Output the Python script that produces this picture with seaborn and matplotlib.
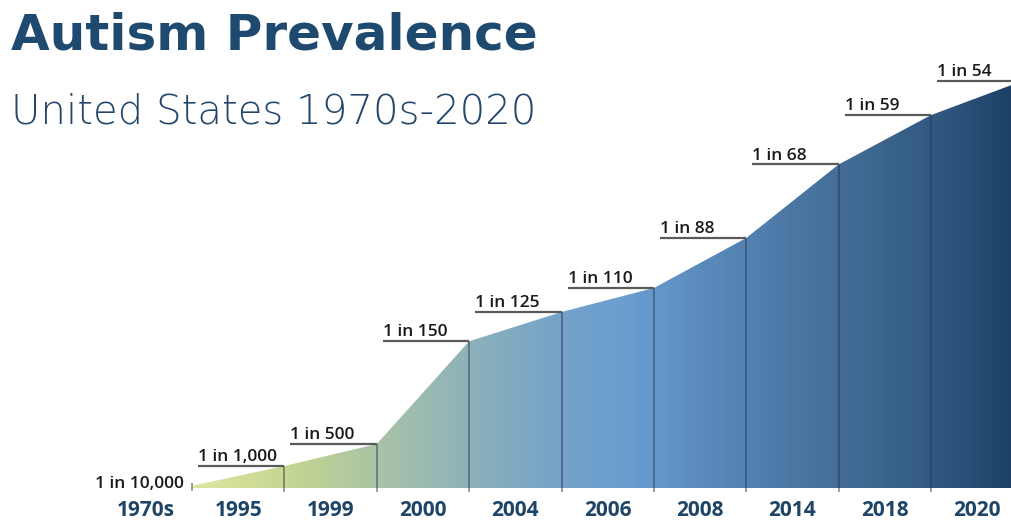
import numpy as np
import matplotlib
matplotlib.use("Agg")
import matplotlib.pyplot as plt
import seaborn as sns
from matplotlib.colors import LinearSegmentedColormap
from matplotlib.patches import Polygon

# ---- data ----
years = ["1970s", "1995", "1999", "2000", "2004", "2006", "2008", "2014", "2018", "2020"]
one_in = [10000, 1000, 500, 150, 125, 110, 88, 68, 59, 54]
labels = ["1 in 10,000", "1 in 1,000", "1 in 500", "1 in 150", "1 in 125",
          "1 in 110", "1 in 88", "1 in 68", "1 in 59", "1 in 54"]
prevalence = [1.0 / n for n in one_in]

sns.set_theme(style="white")
plt.rcParams['font.family'] = ['DejaVu Sans']

W, H = 1011, 523
fig = plt.figure(figsize=(W / 100, H / 100), dpi=100)
ax = fig.add_axes([0, 0, 1, 1])
ax.set_axis_off()

# pixel mapping: point i at px 192 + 92.375*i, baseline at py 488, 22000 px per unit
dx = 92.375
S = 22000.0
ax.set_xlim(-192 / dx, (W - 192) / dx)
ax.set_ylim(-(H - 488) / S, 488 / S)

xs = np.arange(len(years))
sns.lineplot(x=xs, y=prevalence, ax=ax, linewidth=0, color="#1c4163")

# gradient fill clipped to area
stops_px = [192, 285, 377, 469, 562, 630, 700, 790, 880, 960, 1023]
stops_col = ["#dde6a0", "#c6d790", "#a9c3a6", "#8db2ba", "#74a2c9", "#6a9ed0",
             "#5b8bbd", "#4c78a5", "#3d668f", "#2a527a", "#1b3f61"]
fr = [(p - 192) / (1023 - 192) for p in stops_px]
cmap = LinearSegmentedColormap.from_list("g", list(zip(fr, stops_col)))
grad = np.linspace(0, 1, 600).reshape(1, -1)
im = ax.imshow(grad, cmap=cmap, aspect="auto",
               extent=[0, len(years) - 1, 0, max(prevalence) * 1.02],
               origin="lower", zorder=1, interpolation="bilinear")
poly = Polygon(np.column_stack([np.r_[xs, xs[-1], xs[0]],
                                np.r_[prevalence, 0, 0]]),
               closed=True, transform=ax.transData, facecolor="none", edgecolor="none")
ax.add_patch(poly)
im.set_clip_path(poly)

# vertical separators
for i in range(1, len(years)):
    ax.vlines(xs[i], -4 / S, prevalence[i], color="#23364a", alpha=0.55, lw=1.2, zorder=2)
ax.vlines(xs[0], -3 / S, 5 / S, color="#8a8a8a", lw=1.2, zorder=2)

# value labels with underline
for i in range(1, len(years)):
    x0 = xs[i - 1] + 6 / dx
    ax.hlines(prevalence[i], x0, xs[i], color="#5a5a5a", lw=1.6, zorder=3)
    ax.annotate(labels[i], xy=(x0, prevalence[i]), xytext=(0, 3.5),
                textcoords="offset points", ha="left", va="baseline",
                fontsize=12.5, fontweight="semibold", family=["Open Sans", "DejaVu Sans"],
                color="#1a1a1a", zorder=4)
ax.annotate(labels[0], xy=(xs[0], 0), xytext=(-6, 0), textcoords="offset points",
            ha="right", va="baseline", fontsize=12.5, fontweight="semibold",
            family=["Open Sans", "DejaVu Sans"], color="#1a1a1a")

# category labels
for i, yr in enumerate(years):
    ax.text(xs[i] - 0.5, -23 / S, yr, ha="center", va="center", fontsize=15,
            fontweight="bold", family=["Open Sans", "DejaVu Sans"], color="#1e4466")

# titles
fig.text(11 / W, 1 - 50 / H, "Autism Prevalence", ha="left", va="baseline",
         fontsize=36, fontweight="bold", color="#1f4a70", family=["DejaVu Sans"])
fig.text(11 / W, 1 - 123 / H, "United States 1970s-2020", ha="left", va="baseline",
         fontsize=29, fontweight="light", color="#22476a", family=["DejaVu Sans"])

fig.savefig("out.png", dpi=100)
